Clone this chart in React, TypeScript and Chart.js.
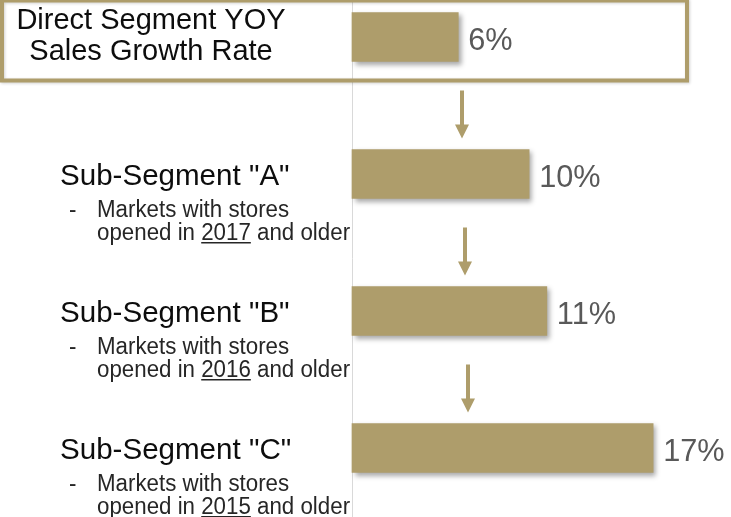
import React, { useEffect, useRef } from "react";
import { Chart, registerables } from "chart.js";

Chart.register(...registerables);

const categories: string[][] = [
  ["Direct Segment YOY", "Sales Growth Rate"],
  ['Sub-Segment "A"'],
  ['Sub-Segment "B"'],
  ['Sub-Segment "C"'],
];
const growthValues: number[] = [6, 10, 11, 17];
const valueLabels: string[] = ["6%", "10%", "11%", "17%"];
const storeYears: string[] = ["", "2017", "2016", "2015"];
const bulletLine1 = "Markets with stores";
const bulletPrefix = "opened in ";
const bulletSuffix = " and older";

const TAN = "#ae9d6b";
const FONT = '"Liberation Sans", Arial, sans-serif';

function drawText(
  ctx: CanvasRenderingContext2D,
  text: string,
  x: number,
  y: number,
  size: number,
  color: string,
  sx: number,
  align: CanvasTextAlign = "left"
) {
  ctx.save();
  ctx.font = `${size}px ${FONT}`;
  ctx.fillStyle = color;
  ctx.textBaseline = "alphabetic";
  ctx.textAlign = align;
  ctx.translate(x, y);
  ctx.scale(sx, 1);
  ctx.fillText(text, 0, 0);
  ctx.restore();
}

const decorPlugin = {
  id: "decor",
  beforeDraw(chart: any) {
    const ctx: CanvasRenderingContext2D = chart.ctx;
    const xs = chart.scales.x;
    const x0 = Math.round(xs.getPixelForValue(0)) + 0.5;
    ctx.save();
    ctx.fillStyle = "#ffffff";
    ctx.fillRect(0, 0, chart.width, chart.height);
    ctx.strokeStyle = "#d9d9d9";
    ctx.lineWidth = 1;
    ctx.beginPath();
    ctx.moveTo(x0, 0);
    ctx.lineTo(x0, chart.height);
    ctx.stroke();
    ctx.restore();
  },
  beforeDatasetsDraw(chart: any) {
    const ctx: CanvasRenderingContext2D = chart.ctx;
    ctx.save();
    ctx.shadowColor = "rgba(0,0,0,0.35)";
    ctx.shadowBlur = 5;
    ctx.shadowOffsetX = 3;
    ctx.shadowOffsetY = 3;
  },
  afterDatasetsDraw(chart: any) {
    const ctx: CanvasRenderingContext2D = chart.ctx;
    ctx.restore();
    const xs = chart.scales.x;
    const ys = chart.scales.y;
    const meta = chart.getDatasetMeta(0);
    const centers: number[] = categories.map((_, i) => ys.getPixelForValue(i));

    // box around the first row
    ctx.save();
    ctx.shadowColor = "rgba(0,0,0,0.18)";
    ctx.shadowBlur = 3;
    ctx.shadowOffsetX = 1;
    ctx.shadowOffsetY = 1;
    ctx.strokeStyle = TAN;
    ctx.lineWidth = 4;
    ctx.strokeRect(2, centers[0] - 36.5, 685, 80);
    ctx.restore();

    // value labels
    meta.data.forEach((bar: any, i: number) => {
      drawText(ctx, valueLabels[i], bar.x + 10, centers[i] + 12.5, 31, "#595959", 0.99);
    });

    // arrows
    const x0 = xs.getPixelForValue(0);
    for (let i = 0; i < centers.length - 1; i++) {
      const mid = (centers[i] + centers[i + 1]) / 2;
      const ax = x0 + 110 + 3 * i;
      const top = mid - 15;
      const bottom = mid + 33;
      ctx.save();
      ctx.fillStyle = TAN;
      ctx.fillRect(ax - 2, top, 4, bottom - top - 13);
      ctx.beginPath();
      ctx.moveTo(ax - 7, bottom - 14);
      ctx.lineTo(ax + 7, bottom - 14);
      ctx.lineTo(ax, bottom);
      ctx.closePath();
      ctx.fill();
      ctx.restore();
    }

    // category texts
    categories.forEach((lines, i) => {
      const c = centers[i];
      if (i === 0) {
        drawText(ctx, lines[0], 151, c - 8, 29, "#0d0d0d", 1, "center");
        drawText(ctx, lines[1], 151, c + 23, 29, "#0d0d0d", 1, "center");
        return;
      }
      drawText(ctx, lines[0], 60, c + 11, 30, "#0d0d0d", 0.985);
      const bsize = 23;
      const bsx = 0.97;
      drawText(ctx, "-", 69, c + 43, bsize, "#262626", bsx);
      drawText(ctx, bulletLine1, 97, c + 43, bsize, "#262626", bsx);
      const year = storeYears[i];
      const line2 = bulletPrefix + year + bulletSuffix;
      drawText(ctx, line2, 97, c + 66, bsize, "#262626", bsx);
      ctx.save();
      ctx.font = `${bsize}px ${FONT}`;
      const pre = ctx.measureText(bulletPrefix).width * bsx;
      const yw = ctx.measureText(year).width * bsx;
      ctx.fillStyle = "#262626";
      ctx.fillRect(97 + pre, c + 68, yw, 1.5);
      ctx.restore();
    });
  },
};

export default function App() {
  const ref = useRef<HTMLCanvasElement | null>(null);
  useEffect(() => {
    document.body.style.margin = "0";
    const canvas = ref.current;
    if (!canvas) return;
    const chart = new Chart(canvas, {
      type: "bar",
      data: {
        labels: categories,
        datasets: [
          {
            data: growthValues,
            backgroundColor: TAN,
            borderWidth: 0,
            barThickness: 49,
            clip: false as any,
          },
        ],
      },
      options: {
        indexAxis: "y",
        responsive: false,
        animation: false,
        devicePixelRatio: 1,
        layout: { padding: { left: 352, right: 7, top: 37, bottom: 69 } },
        scales: {
          x: { type: "linear", min: 0, max: 21, display: false },
          y: { type: "category", offset: false, display: false },
        },
        plugins: {
          legend: { display: false },
          tooltip: { enabled: false },
        },
      },
      plugins: [decorPlugin],
    });
    return () => chart.destroy();
  }, []);
  return (
    <div style={{ position: "absolute", left: 0, top: 0, width: 731, height: 517 }}>
      <canvas ref={ref} width={731} height={517} style={{ display: "block" }} />
    </div>
  );
}
